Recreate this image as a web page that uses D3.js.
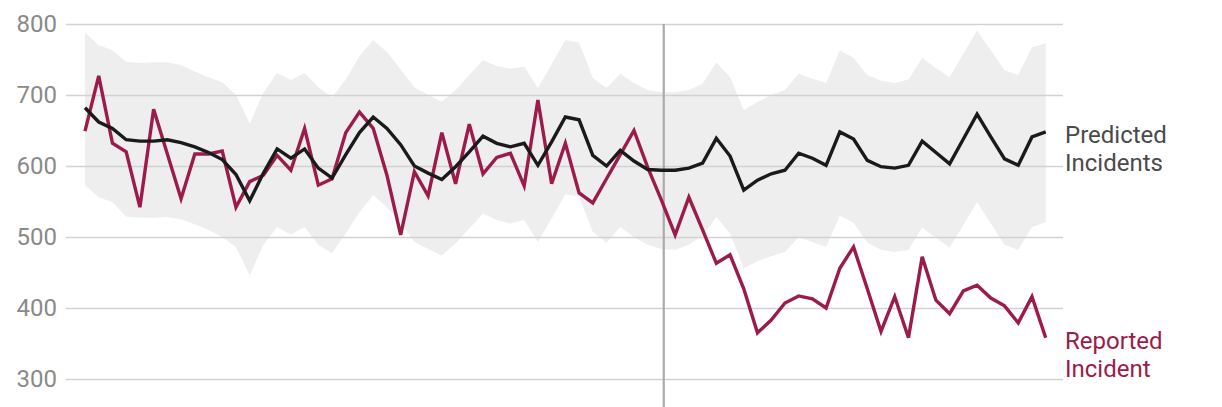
<!DOCTYPE html>
<html>
<head>
<meta charset="utf-8">
<script src="https://cdn.jsdelivr.net/npm/d3@7"></script>
<style>
  html, body { margin: 0; padding: 0; background: #fff; }
  svg { display: block; font-family: Roboto, "Noto Sans", sans-serif; }
</style>
</head>
<body>
<svg id="chart" width="1222" height="407"></svg>
<script>
// ---- data ----
const reported = [649,727,632,620,542,680,617,554,617,617,621,542,578,587,615,594,653,573,582,647,676,653,587,503,592,558,647,575,659,589,612,618,572,693,575,632,562,548,582,616,650,598,552,503,556,510,463,475,427,365,383,407,417,413,400,456,486,427,367,416,358,472,411,392,424,432,414,403,379,416,358];
const predicted = [682,662,653,637,635,635,637,633,627,619,609,588,551,590,624,611,624,597,583,616,647,669,653,630,600,590,581,599,620,642,632,627,632,601,634,669,665,615,600,622,607,595,594,594,597,604,639,614,566,580,589,594,618,611,601,648,638,608,599,597,601,635,619,603,638,673,641,610,601,641,648];
const bandUpper = [788,770,763,747,745,746,746,742,733,725,718,700,660,703,731,721,731,711,697,722,755,777,761,736,711,700,691,707,728,749,741,737,740,710,743,777,774,724,710,730,717,707,704,704,707,716,746,725,679,690,700,707,730,723,717,763,752,728,720,717,722,752,738,725,758,791,763,735,728,767,773];
const bandLower = [573,556,549,529,527,527,528,525,518,510,500,486,446,489,514,503,514,489,477,505,535,559,542,521,493,483,474,491,512,533,524,519,524,493,526,560,557,507,492,514,500,489,483,482,489,502,528,505,456,466,473,479,500,493,486,530,520,492,482,479,482,513,499,485,517,549,519,489,482,514,521];
const yTicks = [300, 400, 500, 600, 700, 800];
const interventionIndex = 42.17;
const predictedLabel = ["Predicted", "Incidents"];
const reportedLabel = ["Reported", "Incident"];

// ---- layout ----
const svg = d3.select("#chart");
const n = reported.length;
const x = d3.scaleLinear().domain([0, n - 1]).range([85, 1045.7]);
const y = d3.scaleLinear().domain([300, 800]).range([379, 24]);
const gridLeft = 66, gridRight = 1063;

const idx = d3.range(n);

// band
svg.append("path")
  .datum(idx)
  .attr("fill", "#eeeeee")
  .attr("d", d3.area()
    .x(i => x(i))
    .y0(i => y(bandLower[i]))
    .y1(i => y(bandUpper[i])));

// y axis with gridlines
const axis = d3.axisLeft(y)
  .tickValues(yTicks)
  .tickSize(gridRight - gridLeft)
  .tickPadding(9)
  .tickFormat(d3.format("d"));
const gAxis = svg.append("g")
  .attr("transform", `translate(${gridRight},0)`)
  .call(axis);
gAxis.select(".domain").remove();
gAxis.selectAll(".tick line").attr("stroke", "#d2d2d2").attr("stroke-width", 1.5);
gAxis.selectAll(".tick text")
  .attr("fill", "#8a8a8a")
  .attr("font-size", 24)
  .attr("font-family", "Roboto, sans-serif");

// intervention line
svg.append("line")
  .attr("x1", x(interventionIndex)).attr("x2", x(interventionIndex))
  .attr("y1", y(800)).attr("y2", 407)
  .attr("stroke", "#ababab").attr("stroke-width", 2.2);

// lines
const line = arr => d3.line().x(i => x(i)).y(i => y(arr[i]))(idx);
svg.append("path").attr("d", line(reported))
  .attr("fill", "none").attr("stroke", "#9b1b4b").attr("stroke-width", 3.4)
  .attr("stroke-linejoin", "miter");
svg.append("path").attr("d", line(predicted))
  .attr("fill", "none").attr("stroke", "#1a1a1a").attr("stroke-width", 3.4)
  .attr("stroke-linejoin", "miter");

// end labels
function endLabel(lines, yBase, color) {
  const t = svg.append("text")
    .attr("x", 1065)
    .attr("y", yBase)
    .attr("fill", color)
    .attr("font-size", 24);
  lines.forEach((s, k) => {
    t.append("tspan").attr("x", 1065).attr("dy", k === 0 ? 0 : 28).text(s);
  });
}
endLabel(predictedLabel, y(predicted[n - 1]) + 11.5, "#4a4a4a");
endLabel(reportedLabel, y(reported[n - 1]) + 11, "#9b1b4b");
</script>
</body>
</html>
